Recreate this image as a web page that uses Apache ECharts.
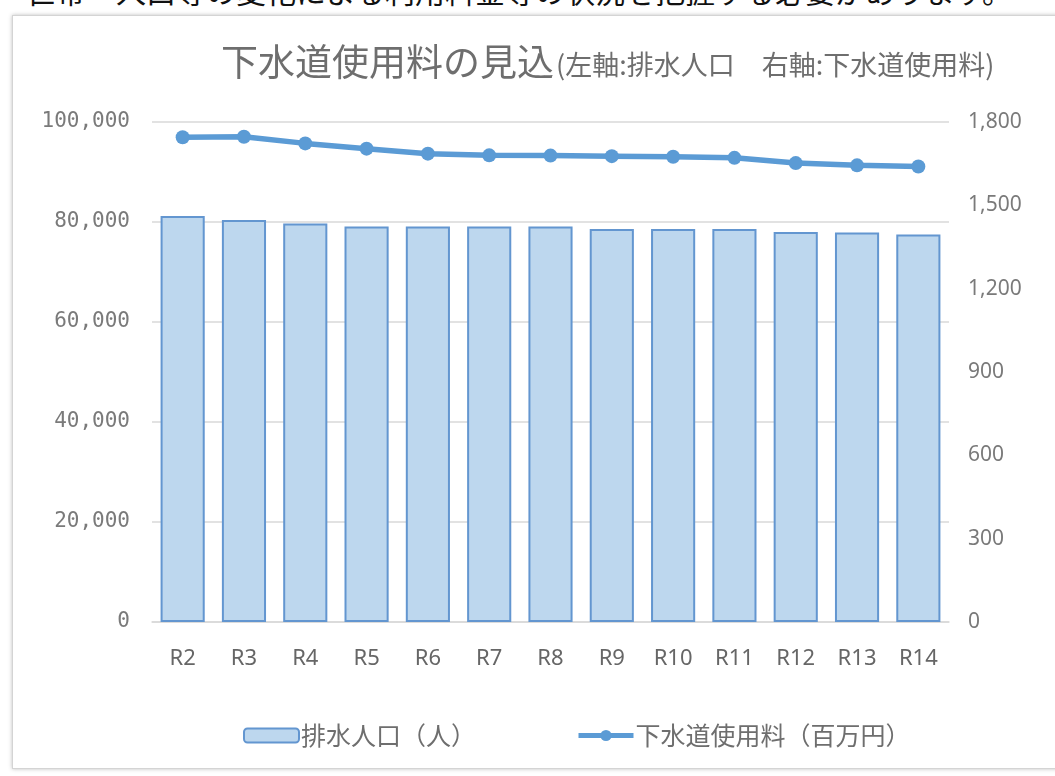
<!DOCTYPE html>
<html>
<head>
    <meta charset="utf-8">
    <title>下水道使用料の見込</title>
    <script src="https://cdn.jsdelivr.net/npm/echarts@6/dist/echarts.min.js"></script>
    <style>
        html, body { margin: 0; padding: 0; background: #fff; overflow: hidden; }
        #lead {
            position: absolute; left: 26px; top: -25px; white-space: nowrap;
            font-family: "Noto Sans CJK JP"; font-size: 30px; line-height: 30px; color: #111;
        }
        #card {
            position: absolute; left: 12px; top: 15px; width: 1100px; height: 752px;
            border: 1px solid #d4d4d4; box-shadow: 0 0 4px rgba(0, 0, 0, 0.25); background: #fff;
        }
        #main { position: absolute; left: 0; top: 0; width: 1055px; height: 776px; }
    </style>
</head>
<body>
<div id="lead">世帯・人口等の変化による利用料金等の状況を把握する必要があります。</div>
<div id="card"></div>
<div id="main"></div>
<script type="text/javascript">
    var years = ['R2', 'R3', 'R4', 'R5', 'R6', 'R7', 'R8', 'R9', 'R10', 'R11', 'R12', 'R13', 'R14']
    // 排水人口(人) - left axis
    var population = [81200, 80400, 79700, 79100, 79100, 79100, 79100, 78600, 78600, 78600, 78000, 77900, 77500]
    // 下水道使用料(百万円) - right axis
    var fees = [1745, 1747, 1723, 1704, 1686, 1680, 1679, 1677, 1675, 1671, 1652, 1644, 1640]

    var gray = '#6e6e6e'
    var myChart = echarts.init(document.getElementById('main'))

    var option = {
        backgroundColor: 'transparent',
        animation: false,
        title: {
            left: 216,
            top: 38,
            text: '{a|下水道使用料の見込}{b|(左軸:排水人口　右軸:下水道使用料)}',
            textStyle: {
                fontWeight: 'normal',
                rich: {
                    a: {fontFamily: 'Noto Sans CJK JP', fontSize: 37, fontWeight: 'normal', color: gray},
                    b: {fontFamily: 'Noto Sans CJK JP', fontSize: 27, fontWeight: 'normal', color: gray, padding: [6, 0, 0, 2]}
                }
            }
        },
        legend: {
            left: 238,
            top: 718,
            itemWidth: 55,
            itemHeight: 14,
            itemGap: 100,
            textStyle: {fontFamily: 'Noto Sans CJK JP', fontSize: 25, color: gray, padding: [0, 0, 0, -3]},
            data: [
                {name: '排水人口(人)'},
                {name: '下水道使用料(百万円)', lineStyle: {width: 5}}
            ],
            formatter: function (name) { return name.replace('(', '（').replace(')', '）') }
        },
        grid: {left: 152, right: 106, top: 122, bottom: 154},
        xAxis: {
            type: 'category',
            data: years,
            axisTick: {show: false},
            axisLine: {lineStyle: {color: '#d9d9d9', width: 1.5}},
            axisLabel: {fontFamily: 'Noto Sans', fontSize: 22, color: '#666', margin: 26}
        },
        yAxis: [{
            type: 'value',
            min: 0,
            max: 100000,
            interval: 20000,
            axisLine: {show: false},
            axisTick: {show: false},
            splitLine: {lineStyle: {color: '#d9d9d9', width: 1.5}},
            axisLabel: {
                fontFamily: 'DejaVu Sans Mono', fontSize: 21, color: '#7a7a7a', margin: 22,
                formatter: function (v) { return v.toLocaleString('en-US') }
            }
        }, {
            type: 'value',
            min: 0,
            max: 1800,
            interval: 300,
            position: 'right',
            axisLine: {show: false},
            axisTick: {show: false},
            splitLine: {show: false},
            axisLabel: {
                fontFamily: 'Noto Sans', fontSize: 21, color: '#7a7a7a', margin: 19,
                formatter: function (v) { return v.toLocaleString('en-US') }
            }
        }],
        series: [{
            name: '排水人口(人)',
            type: 'bar',
            yAxisIndex: 0,
            barCategoryGap: '28%',
            itemStyle: {color: '#bdd7ee', borderColor: '#6396d0', borderWidth: 2},
            data: population
        }, {
            name: '下水道使用料(百万円)',
            type: 'line',
            yAxisIndex: 1,
            symbol: 'circle',
            symbolSize: 14,
            lineStyle: {color: '#5b9bd5', width: 5.5},
            itemStyle: {color: '#5b9bd5'},
            data: fees
        }]
    }
    myChart.setOption(option)
</script>
</body>
</html>
